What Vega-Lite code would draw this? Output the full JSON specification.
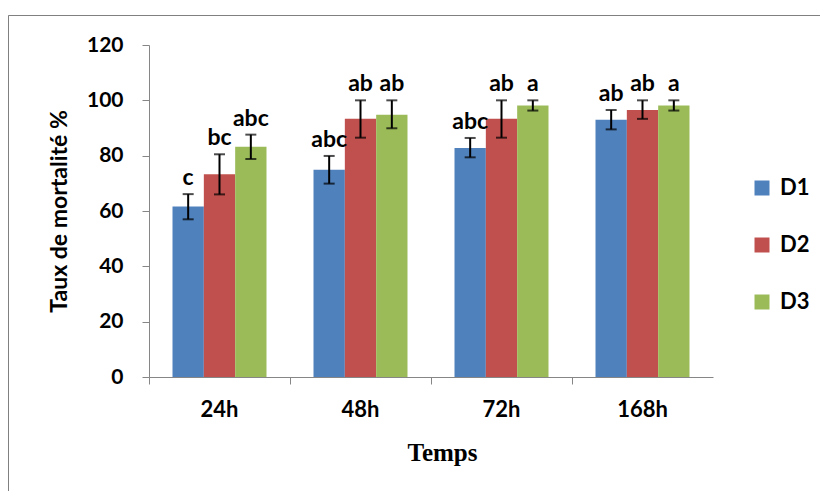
{
  "$schema": "https://vega.github.io/schema/vega-lite/v6.json",
  "autosize": {"type": "none"},
  "padding": {"left": 8, "top": 15, "right": 0, "bottom": 0},
  "width": 812,
  "height": 476,
  "background": "white",
  "config": {
    "view": {"stroke": "#808080", "strokeWidth": 1, "strokeDash": [812, 1288, 476]},
    "font": "Lato"
  },
  "data": {
    "values": [
      {"temps": "24h", "dose": "D1", "mean": 61.6, "lo": 57.0, "hi": 66.1, "lettre": "c"},
      {"temps": "24h", "dose": "D2", "mean": 73.3, "lo": 66.0, "hi": 80.5, "lettre": "bc"},
      {"temps": "24h", "dose": "D3", "mean": 83.2, "lo": 78.8, "hi": 87.6, "lettre": "abc"},
      {"temps": "48h", "dose": "D1", "mean": 74.9, "lo": 69.9, "hi": 79.9, "lettre": "abc"},
      {"temps": "48h", "dose": "D2", "mean": 93.3, "lo": 86.5, "hi": 100, "lettre": "ab"},
      {"temps": "48h", "dose": "D3", "mean": 94.8, "lo": 89.9, "hi": 100, "lettre": "ab"},
      {"temps": "72h", "dose": "D1", "mean": 82.8, "lo": 79.4, "hi": 86.4, "lettre": "abc"},
      {"temps": "72h", "dose": "D2", "mean": 93.3, "lo": 86.5, "hi": 100, "lettre": "ab"},
      {"temps": "72h", "dose": "D3", "mean": 98.1, "lo": 96.3, "hi": 100, "lettre": "a"},
      {"temps": "168h", "dose": "D1", "mean": 93.0, "lo": 89.5, "hi": 96.5, "lettre": "ab"},
      {"temps": "168h", "dose": "D2", "mean": 96.5, "lo": 93.3, "hi": 100, "lettre": "ab"},
      {"temps": "168h", "dose": "D3", "mean": 98.1, "lo": 96.3, "hi": 100, "lettre": "a"}
    ]
  },
  "encoding": {
    "x": {
      "field": "temps", "type": "nominal", "sort": ["24h", "48h", "72h", "168h"],
      "scale": {"range": [141, 705], "paddingInner": 0, "paddingOuter": 0},
      "axis": {
        "title": "Temps", "offset": -114, "labelAngle": 0, "bandPosition": 0,
        "domainColor": "#868686", "tickColor": "#868686", "tickSize": 7,
        "labelFont": "Lato", "labelFontSize": 22, "labelFontWeight": "bold", "labelColor": "black",
        "labelPadding": 15,
        "titleFont": "Liberation Serif", "titleFontSize": 25, "titleFontWeight": "bold", "titleColor": "black",
        "titlePadding": 20, "titleX": 434
      }
    },
    "xOffset": {"field": "dose", "type": "nominal", "scale": {"paddingInner": 0, "paddingOuter": 0.75}}
  },
  "layer": [
    {
      "mark": {"type": "bar"},
      "encoding": {
        "y": {
          "field": "mean", "type": "quantitative",
          "scale": {"domain": [0, 120], "range": [362, 30], "nice": false},
          "axis": {
            "title": "Taux de mortalité %", "offset": -141, "values": [0, 20, 40, 60, 80, 100, 120], "grid": false,
            "domainColor": "#868686", "tickColor": "#868686", "tickSize": 7,
            "labelFont": "Lato", "labelFontSize": 21, "labelFontWeight": "bold", "labelColor": "black",
            "labelPadding": 19,
            "titleFont": "Lato", "titleFontSize": 23, "titleFontWeight": "bold", "titleColor": "black",
            "titlePadding": 15
          }
        },
        "color": {
          "field": "dose", "type": "nominal",
          "scale": {"domain": ["D1", "D2", "D3"], "range": ["#4F81BD", "#C0504D", "#9BBB59"]},
          "legend": {
            "title": null, "orient": "none", "legendX": 743, "legendY": 162,
            "symbolType": "square", "symbolSize": 225, "symbolStrokeWidth": 0,
            "labelFont": "Lato", "labelFontSize": 22, "labelFontWeight": "bold", "labelColor": "black",
            "labelOffset": 7, "rowPadding": 35, "padding": 0
          }
        }
      }
    },
    {
      "mark": {"type": "rule", "color": "black", "strokeWidth": 2},
      "encoding": {"y": {"field": "lo", "type": "quantitative"}, "y2": {"field": "hi"}}
    },
    {
      "mark": {"type": "tick", "color": "black", "size": 11, "thickness": 2},
      "encoding": {"y": {"field": "lo", "type": "quantitative"}}
    },
    {
      "mark": {"type": "tick", "color": "black", "size": 11, "thickness": 2},
      "encoding": {"y": {"field": "hi", "type": "quantitative"}}
    },
    {
      "mark": {"type": "text", "font": "Lato", "fontSize": 23, "fontWeight": "bold", "color": "black", "baseline": "alphabetic", "dy": -9},
      "encoding": {"y": {"field": "hi", "type": "quantitative"}, "text": {"field": "lettre"}}
    }
  ]
}
